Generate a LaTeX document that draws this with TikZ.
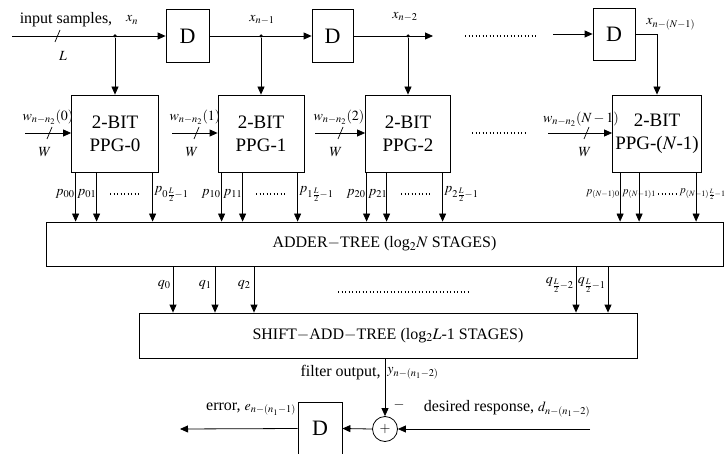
\documentclass[tikz,border=0pt]{standalone}
\usepackage{mathptmx}
\usepackage{fontspec}
\setmainfont{Liberation Serif}
\usetikzlibrary{arrows.meta,calc}
\begin{document}
\begin{tikzpicture}[x=1pt,y=-1pt,
  line width=0.8pt,
  arr/.style={-{Triangle[length=8pt,width=7pt]}},
  dbox/.style={draw,rectangle,inner sep=0pt,font=\fontsize{22}{24}\selectfont},
  ppg/.style={draw,rectangle,inner sep=0pt,minimum height=77pt,align=center,font=\fontsize{19}{23}\selectfont},
  wide/.style={draw,rectangle,inner sep=0pt,font=\fontsize{16}{18}\selectfont},
  lab/.style={inner sep=0pt,font=\fontsize{16}{18}\selectfont},
  slab/.style={inner sep=0pt,font=\fontsize{14}{16}\selectfont},
  tlab/.style={inner sep=0pt,font=\fontsize{11}{13}\selectfont},
  jdot/.style={circle,fill,inner sep=0pt,minimum size=3.5pt},
  dotrow/.style={line width=1.3pt,dash pattern=on 1.3pt off 2.2pt},
  slash/.style={line width=0.7pt}]
\useasboundingbox (0,0) rectangle (727,454);

% delay line
\node[dbox,minimum width=43pt,minimum height=53pt] (d1) at (187.5,36) {D};
\node[dbox,minimum width=41pt,minimum height=53pt] (d2) at (332.5,36) {D};
\node[dbox,minimum width=42pt,minimum height=52pt] (d3) at (614,34) {D};

\coordinate (in) at (12,36);
\node[jdot] (j1) at (115,36) {};
\node[jdot] (j2) at (261,36) {};
\node[jdot] (j3) at (408,36) {};
\coordinate (e2) at (433,36);
\coordinate (s3) at (553,34);
\coordinate (c3) at (657,34);

\draw[arr] (in) -- (d1.west);
\draw[arr] (d1.east) -- (d2.west);
\draw[arr] (d2.east) -- (e2);
\draw[dotrow] (465,36) -- (538,36);
\draw[arr] (s3) -- (d3.west);
\draw[slash] (55,42) -- (60,30);

\node[lab] (tin) at (66,20) {input samples,};
\node[slab] (tx0) at (132,20) {$x_n$};
\node[slab] (tL) at (63,56) {$L$};
\node[slab] (tx1) at (262,20) {$x_{n-1}$};
\node[slab] (tx2) at (405,17) {$x_{n-2}$};
\node[slab,anchor=west] (tx3) at (646,24) {$x_{n-(N-1)}$};

% PPG boxes
\node[ppg,minimum width=87pt] (p0) at (115,133.5) {2-BIT\\PPG-0};
\node[ppg,minimum width=86pt] (p1) at (261,133.5) {2-BIT\\PPG-1};
\node[ppg,minimum width=85pt] (p2) at (408,133.5) {2-BIT\\PPG-2};
\node[ppg,minimum width=89pt] (p3) at (657,133.5) {2-BIT\\PPG-($N$-1)};

\draw[arr] (j1) -- (p0.north);
\draw[arr] (j2) -- (p1.north);
\draw[arr] (j3) -- (p2.north);
\draw[arr] (d3.east) -- (c3) -- (p3.north);

% weight inputs
\coordinate (w0) at (25,133);
\coordinate (w1) at (172,133);
\coordinate (w2) at (315,133);
\coordinate (w3) at (548,133);
\draw[arr] (w0) -- (w0 -| p0.west);
\draw[arr] (w1) -- (w1 -| p1.west);
\draw[arr] (w2) -- (w2 -| p2.west);
\draw[arr] (w3) -- (w3 -| p3.west);
\draw[slash] (47,139) -- (52,127);
\draw[slash] (194,139) -- (199,127);
\draw[slash] (338,139) -- (343,127);
\draw[slash] (584,139) -- (589,127);
\node[slab] (tw0) at (48,117) {$w_{n-n_2}(0)$};
\node[slab] (tw1) at (195,117) {$w_{n-n_2}(1)$};
\node[slab] (tw2) at (339,117) {$w_{n-n_2}(2)$};
\node[slab] (tw3) at (581,119) {$w_{n-n_2}(N-1)$};
\node[slab] (tW0) at (45,152) {$W$};
\node[slab] (tW1) at (192,152) {$W$};
\node[slab] (tW2) at (336,152) {$W$};
\node[slab] (tW3) at (585,152) {$W$};
\draw[dotrow] (472,133) -- (527,133);

% adder tree
\node[wide,minimum width=677pt,minimum height=44pt] (add) at (384.5,244) {ADDER$-$TREE (log$_2N$ STAGES)};

% p outputs
\foreach \b/\o in {p0/4.5,p0/25.5,p0/81.5,p1/4,p1/25,p1/80,p2/1.5,p2/21.5,p2/77.5,p3/8,p3/27,p3/84}{
  \draw[arr] ([xshift=\o pt]\b.south west) -- ([xshift=\o pt]\b.south west |- add.north);
}
\node[slab,anchor=east] (l00) at (75,194) {$p_{00}$};
\node[slab,anchor=west] (l01) at (77,194) {$p_{01}$};
\node[slab,anchor=west] (l02) at (154,194) {$p_{0\frac{L}{2}-1}$};
\draw[dotrow] (110,194) -- (140,194);
\node[slab,anchor=east] (l10) at (221,194) {$p_{10}$};
\node[slab,anchor=west] (l11) at (223,194) {$p_{11}$};
\node[slab,anchor=west] (l12) at (299,194) {$p_{1\frac{L}{2}-1}$};
\draw[dotrow] (256,194) -- (285,194);
\node[slab,anchor=east] (l20) at (366,194) {$p_{20}$};
\node[slab,anchor=west] (l21) at (368,194) {$p_{21}$};
\node[slab,anchor=west] (l22) at (444,194) {$p_{2\frac{L}{2}-1}$};
\draw[dotrow] (401,194) -- (431,194);
\node[tlab,anchor=east] (l30) at (620,194) {$p_{(N-1)0}$};
\node[tlab,anchor=west] (l31) at (622,194) {$p_{(N-1)1}$};
\node[tlab,anchor=east] (l32) at (726,194) {$p_{(N-1)\frac{L}{2}-1}$};
\draw[dotrow] (658,194) -- (676,194);

% shift add tree
\node[wide,minimum width=498pt,minimum height=45pt] (sat) at (388,335.5) {SHIFT$-$ADD$-$TREE (log$_2L$-1 STAGES)};

\foreach \x in {173,215,254,576,608}{
  \draw[arr] (\x,0 |- add.south) -- (\x,0 |- sat.north);
}
\node[slab,anchor=east] (q0) at (171,285) {$q_0$};
\node[slab,anchor=east] (q1) at (212,285) {$q_1$};
\node[slab,anchor=east] (q2) at (251,285) {$q_2$};
\node[slab,anchor=east] (q3) at (574,285) {$q_{\frac{L}{2}-2}$};
\node[slab,anchor=east] (q4) at (606,285) {$q_{\frac{L}{2}-1}$};
\draw[dotrow] (338,292) -- (468,292);

% error computation
\node[draw,circle,inner sep=0pt,minimum size=25pt,font=\fontsize{14}{16}\selectfont] (sum) at (385,429) {$+$};
\node[dbox,minimum width=44pt,minimum height=53pt] (d4) at (320,428.5) {D};
\coordinate (eo) at (180,429);
\coordinate (din) at (590,429);
\draw[arr] (sum.north |- sat.south) -- (sum.north);
\draw[arr] (din) -- (sum.east);
\draw[arr] (sum.west) -- (d4.east);
\draw[arr] (d4.west) -- (eo);
\node[lab,anchor=east] (tfo) at (381,373) {filter output,};
\node[slab,anchor=west] (ty) at (387,373) {$y_{n-(n_1-2)}$};
\node[slab] (tm) at (399,405) {$-$};
\node[lab] (ter) at (251,409) {error, {\fontsize{14}{16}\selectfont$e_{n-(n_1-1)}$}};
\node[lab] (tdr) at (507,409) {desired response, {\fontsize{14}{16}\selectfont$d_{n-(n_1-2)}$}};
\end{tikzpicture}
\end{document}
